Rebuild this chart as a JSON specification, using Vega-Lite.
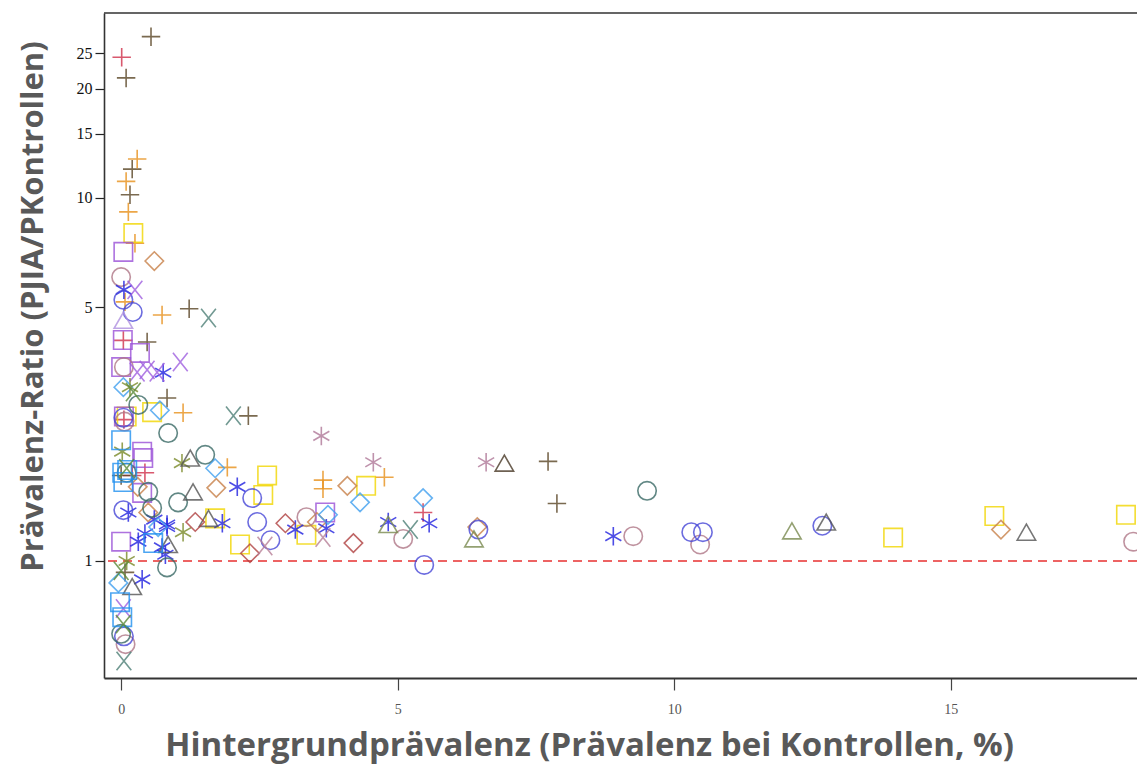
{
  "$schema": "https://vega.github.io/schema/vega-lite/v6.json",
  "autosize": {"type": "none"},
  "padding": {"left": 104, "top": 13, "right": 0, "bottom": 86},
  "width": 1033,
  "height": 665,
  "background": "white",
  "config": {
    "view": {"stroke": null},
    "axis": {"grid": false}
  },
  "layer": [
    {
      "data": {"values": [{"ref": 1, "kind": "reference"}, {"ref": 32.3, "kind": "frame"}]},
      "mark": {"type": "rule"},
      "encoding": {
        "y": {"field": "ref", "type": "quantitative", "scale": {"type": "log", "domain": [0.476, 32.3], "nice": false}},
        "color": {"field": "kind", "type": "nominal", "legend": null, "scale": {"domain": ["reference", "frame"], "range": ["#e83030", "#333333"]}},
        "strokeDash": {"field": "kind", "type": "nominal", "legend": null, "scale": {"domain": ["reference", "frame"], "range": [[9, 6], [1, 0]]}},
        "strokeWidth": {"value": 1.6}
      }
    },
    {
      "data": {"values": [
        {"x": 0.01, "y": 24.4, "g": "A"}, {"x": 0.04, "y": 4.05, "g": "A"}, {"x": 0.05, "y": 2.45, "g": "A"}, {"x": 0.43, "y": 1.75, "g": "A"}, {"x": 5.46, "y": 1.36, "g": "A"}, {"x": 0.2, "y": 1.72, "g": "A"},
        {"x": 0.54, "y": 27.8, "g": "B"}, {"x": 0.09, "y": 21.4, "g": "B"}, {"x": 0.2, "y": 12.0, "g": "B"}, {"x": 0.16, "y": 10.2, "g": "B"}, {"x": 1.23, "y": 4.95, "g": "B"}, {"x": 0.47, "y": 4.01, "g": "B"}, {"x": 0.83, "y": 2.81, "g": "B"}, {"x": 2.3, "y": 2.51, "g": "B"}, {"x": 7.72, "y": 1.88, "g": "B"}, {"x": 7.88, "y": 1.44, "g": "B"}, {"x": 0.0, "y": 1.72, "g": "B"}, {"x": 0.07, "y": 0.93, "g": "B"},
        {"x": 0.29, "y": 12.8, "g": "C"}, {"x": 0.09, "y": 11.1, "g": "C"}, {"x": 0.13, "y": 9.15, "g": "C"}, {"x": 0.25, "y": 7.5, "g": "C"}, {"x": 0.07, "y": 5.17, "g": "C"}, {"x": 0.74, "y": 4.76, "g": "C"}, {"x": 1.12, "y": 2.56, "g": "C"}, {"x": 1.92, "y": 1.81, "g": "C"}, {"x": 3.65, "y": 1.67, "g": "C"}, {"x": 3.65, "y": 1.58, "g": "C"}, {"x": 4.76, "y": 1.7, "g": "C"},
        {"x": 0.22, "y": 8.0, "g": "D"}, {"x": 0.56, "y": 2.57, "g": "D"}, {"x": 2.64, "y": 1.72, "g": "D"}, {"x": 2.57, "y": 1.52, "g": "D"}, {"x": 1.7, "y": 1.31, "g": "D"}, {"x": 2.15, "y": 1.11, "g": "D"}, {"x": 3.35, "y": 1.18, "g": "D"}, {"x": 4.43, "y": 1.61, "g": "D"}, {"x": 13.96, "y": 1.16, "g": "D"}, {"x": 15.79, "y": 1.33, "g": "D"}, {"x": 18.17, "y": 1.34, "g": "D"}, {"x": 0.1, "y": 2.5, "g": "D"},
        {"x": 0.04, "y": 7.1, "g": "E"}, {"x": 0.03, "y": 4.06, "g": "E"}, {"x": 0.34, "y": 3.74, "g": "E"}, {"x": 0.0, "y": 3.42, "g": "E"}, {"x": 0.38, "y": 2.0, "g": "E"}, {"x": 0.4, "y": 1.92, "g": "E"}, {"x": 0.0, "y": 1.13, "g": "E"}, {"x": 3.69, "y": 1.36, "g": "E"}, {"x": 0.05, "y": 2.5, "g": "E"}, {"x": 0.38, "y": 1.54, "g": "E"},
        {"x": 0.6, "y": 6.7, "g": "F"}, {"x": 1.72, "y": 1.59, "g": "F"}, {"x": 0.49, "y": 1.36, "g": "F"}, {"x": 4.09, "y": 1.61, "g": "F"}, {"x": 3.54, "y": 1.28, "g": "F"}, {"x": 6.44, "y": 1.24, "g": "F"}, {"x": 15.91, "y": 1.22, "g": "F"}, {"x": 0.3, "y": 1.6, "g": "F"},
        {"x": 0.0, "y": 6.05, "g": "G"}, {"x": 0.05, "y": 3.42, "g": "G"}, {"x": 0.06, "y": 2.42, "g": "G"}, {"x": 3.35, "y": 1.32, "g": "G"}, {"x": 5.1, "y": 1.15, "g": "G"}, {"x": 9.26, "y": 1.17, "g": "G"}, {"x": 10.47, "y": 1.11, "g": "G"}, {"x": 18.3, "y": 1.13, "g": "G"}, {"x": 0.08, "y": 0.59, "g": "G"},
        {"x": 0.05, "y": 5.58, "g": "H"}, {"x": 0.76, "y": 3.3, "g": "H"}, {"x": 2.1, "y": 1.6, "g": "H"}, {"x": 1.83, "y": 1.27, "g": "H"}, {"x": 3.15, "y": 1.22, "g": "H"}, {"x": 0.83, "y": 1.26, "g": "H"}, {"x": 0.38, "y": 0.89, "g": "H"}, {"x": 0.74, "y": 1.09, "g": "H"}, {"x": 0.13, "y": 1.36, "g": "H"}, {"x": 0.83, "y": 1.24, "g": "H"}, {"x": 0.43, "y": 1.19, "g": "H"}, {"x": 0.31, "y": 1.13, "g": "H"}, {"x": 0.8, "y": 1.04, "g": "H"}, {"x": 3.71, "y": 1.23, "g": "H"}, {"x": 4.83, "y": 1.28, "g": "H"}, {"x": 5.57, "y": 1.27, "g": "H"}, {"x": 8.9, "y": 1.17, "g": "H"}, {"x": 0.6, "y": 1.3, "g": "H"},
        {"x": 0.04, "y": 5.24, "g": "I"}, {"x": 0.21, "y": 4.85, "g": "I"}, {"x": 0.04, "y": 2.48, "g": "I"}, {"x": 2.37, "y": 1.49, "g": "I"}, {"x": 2.46, "y": 1.28, "g": "I"}, {"x": 2.7, "y": 1.14, "g": "I"}, {"x": 0.04, "y": 1.38, "g": "I"}, {"x": 5.48, "y": 0.975, "g": "I"}, {"x": 6.46, "y": 1.22, "g": "I"}, {"x": 10.31, "y": 1.2, "g": "I"}, {"x": 10.52, "y": 1.2, "g": "I"}, {"x": 12.68, "y": 1.25, "g": "I"}, {"x": 0.05, "y": 0.62, "g": "I"},
        {"x": 0.25, "y": 5.58, "g": "J"}, {"x": 0.47, "y": 3.36, "g": "J"}, {"x": 1.07, "y": 3.53, "g": "J"}, {"x": 0.65, "y": 3.31, "g": "J"}, {"x": 0.29, "y": 3.31, "g": "J"}, {"x": 0.04, "y": 0.74, "g": "J"},
        {"x": 1.58, "y": 4.67, "g": "K"}, {"x": 2.03, "y": 2.51, "g": "K"}, {"x": 5.23, "y": 1.22, "g": "K"}, {"x": 0.05, "y": 0.53, "g": "K"},
        {"x": 0.31, "y": 2.69, "g": "L"}, {"x": 0.85, "y": 2.25, "g": "L"}, {"x": 1.52, "y": 1.96, "g": "L"}, {"x": 1.03, "y": 1.45, "g": "L"}, {"x": 0.49, "y": 1.55, "g": "L"}, {"x": 0.56, "y": 1.4, "g": "L"}, {"x": 0.83, "y": 0.96, "g": "L"}, {"x": 9.51, "y": 1.56, "g": "L"}, {"x": 0.0, "y": 0.63, "g": "L"}, {"x": 0.1, "y": 1.75, "g": "L"},
        {"x": 0.04, "y": 3.01, "g": "M"}, {"x": 0.7, "y": 2.6, "g": "M"}, {"x": 1.7, "y": 1.8, "g": "M"}, {"x": 4.32, "y": 1.45, "g": "M"}, {"x": 3.74, "y": 1.34, "g": "M"}, {"x": 5.46, "y": 1.49, "g": "M"}, {"x": 0.67, "y": 1.24, "g": "M"}, {"x": -0.05, "y": 0.87, "g": "M"},
        {"x": 0.16, "y": 3.01, "g": "N"}, {"x": 0.02, "y": 2.0, "g": "N"}, {"x": 1.1, "y": 1.86, "g": "N"}, {"x": 1.12, "y": 1.2, "g": "N"}, {"x": 0.1, "y": 1.0, "g": "N"},
        {"x": 1.25, "y": 1.92, "g": "O"}, {"x": 1.3, "y": 1.55, "g": "O"}, {"x": 1.58, "y": 1.31, "g": "O"}, {"x": 0.85, "y": 1.11, "g": "O"}, {"x": 0.2, "y": 0.85, "g": "O"}, {"x": 12.75, "y": 1.28, "g": "O"}, {"x": 16.37, "y": 1.2, "g": "O"},
        {"x": 6.93, "y": 1.86, "g": "P"},
        {"x": 3.62, "y": 2.21, "g": "Q"}, {"x": 4.56, "y": 1.87, "g": "Q"}, {"x": 6.6, "y": 1.87, "g": "Q"},
        {"x": 1.34, "y": 1.28, "g": "R"}, {"x": 2.33, "y": 1.05, "g": "R"}, {"x": 2.97, "y": 1.27, "g": "R"}, {"x": 4.2, "y": 1.12, "g": "R"},
        {"x": 0.0, "y": 2.15, "g": "S"}, {"x": 0.02, "y": 1.75, "g": "S"}, {"x": 0.11, "y": 1.78, "g": "S"}, {"x": 0.04, "y": 1.65, "g": "S"}, {"x": 0.58, "y": 1.12, "g": "S"}, {"x": -0.02, "y": 0.77, "g": "S"}, {"x": 0.02, "y": 0.7, "g": "S"},
        {"x": 4.83, "y": 1.26, "g": "T"}, {"x": 6.38, "y": 1.15, "g": "T"}, {"x": 12.13, "y": 1.21, "g": "T"},
        {"x": 2.6, "y": 1.1, "g": "U"}, {"x": 3.65, "y": 1.16, "g": "U"},
        {"x": 0.22, "y": 2.92, "g": "V"}, {"x": 0.0, "y": 0.94, "g": "V"}, {"x": 0.04, "y": 0.67, "g": "V"}, {"x": 0.1, "y": 1.8, "g": "V"},
        {"x": 0.04, "y": 4.6, "g": "W"}
      ]},
      "mark": {"type": "point", "filled": false, "strokeWidth": 1.6, "opacity": 0.8, "size": 340, "clip": true},
      "encoding": {
        "x": {
          "field": "x", "type": "quantitative",
          "scale": {"domain": [-0.31, 18.37], "nice": false, "zero": false},
          "axis": {
            "values": [0, 5, 10, 15], "domain": true, "domainColor": "#333333", "domainWidth": 2,
            "tickColor": "#444444", "tickSize": 12, "tickWidth": 1.2,
            "labelFont": "Liberation Serif", "labelFontSize": 14, "labelColor": "#555555", "labelPadding": 12,
            "title": "Hintergrundprävalenz (Prävalenz bei Kontrollen, %)",
            "titleFont": "Open Sans", "titleFontSize": 33, "titleFontWeight": "bold", "titleColor": "#595959",
            "titleX": 485, "titlePadding": 13
          }
        },
        "y": {
          "field": "y", "type": "quantitative",
          "scale": {"type": "log", "domain": [0.476, 32.3], "nice": false},
          "axis": {
            "values": [1, 5, 10, 15, 20, 25], "domain": true, "domainColor": "#333333", "domainWidth": 1.6,
            "tickColor": "#222222", "tickSize": 9, "tickWidth": 1.2,
            "labelFont": "Liberation Serif", "labelFontSize": 16, "labelColor": "#111111", "labelPadding": 3,
            "title": "Prävalenz-Ratio (PJIA/PKontrollen)",
            "titleFont": "Open Sans", "titleFontSize": 31, "titleFontWeight": "bold", "titleColor": "#595959",
            "titleY": 293, "titleX": -62, "titleBaseline": "alphabetic"
          }
        },
        "shape": {
          "field": "g", "type": "nominal", "legend": null,
          "scale": {
            "domain": ["A", "B", "C", "D", "E", "F", "G", "H", "I", "J", "K", "L", "M", "N", "O", "P", "Q", "R", "S", "T", "U", "V", "W"],
            "range": [
              "M-1,0L1,0M0,-1L0,1", "M-1,0L1,0M0,-1L0,1", "M-1,0L1,0M0,-1L0,1", "square", "square", "diamond", "circle",
              "M0,-1L0,1M-0.87,-0.5L0.87,0.5M-0.87,0.5L0.87,-0.5", "circle", "M-0.8,-1L0.8,1M-0.8,1L0.8,-1", "M-0.8,-1L0.8,1M-0.8,1L0.8,-1", "circle", "diamond",
              "M0,-1L0,1M-0.87,-0.5L0.87,0.5M-0.87,0.5L0.87,-0.5", "triangle-up", "triangle-up", "M0,-1L0,1M-0.87,-0.5L0.87,0.5M-0.87,0.5L0.87,-0.5", "diamond", "square", "triangle-up",
              "M-0.8,-1L0.8,1M-0.8,1L0.8,-1", "M-0.8,-1L0.8,1M-0.8,1L0.8,-1", "triangle-up"
            ]
          }
        },
        "color": {
          "field": "g", "type": "nominal", "legend": null,
          "scale": {
            "domain": ["A", "B", "C", "D", "E", "F", "G", "H", "I", "J", "K", "L", "M", "N", "O", "P", "Q", "R", "S", "T", "U", "V", "W"],
            "range": ["#d0304a", "#5a4525", "#e8901a", "#f2d600", "#9a50d8", "#c88048", "#b07888", "#2020e0", "#4848d8", "#a060e0", "#4f8078", "#3a6a66", "#40a0f0", "#7a8a28", "#555555", "#4a3a28", "#b07898", "#b04040", "#2090f0", "#7a8a50", "#b88098", "#5a8a38", "#b090e0"]
          }
        }
      }
    }
  ],
  "resolve": {"scale": {"color": "independent", "strokeDash": "independent"}}
}
